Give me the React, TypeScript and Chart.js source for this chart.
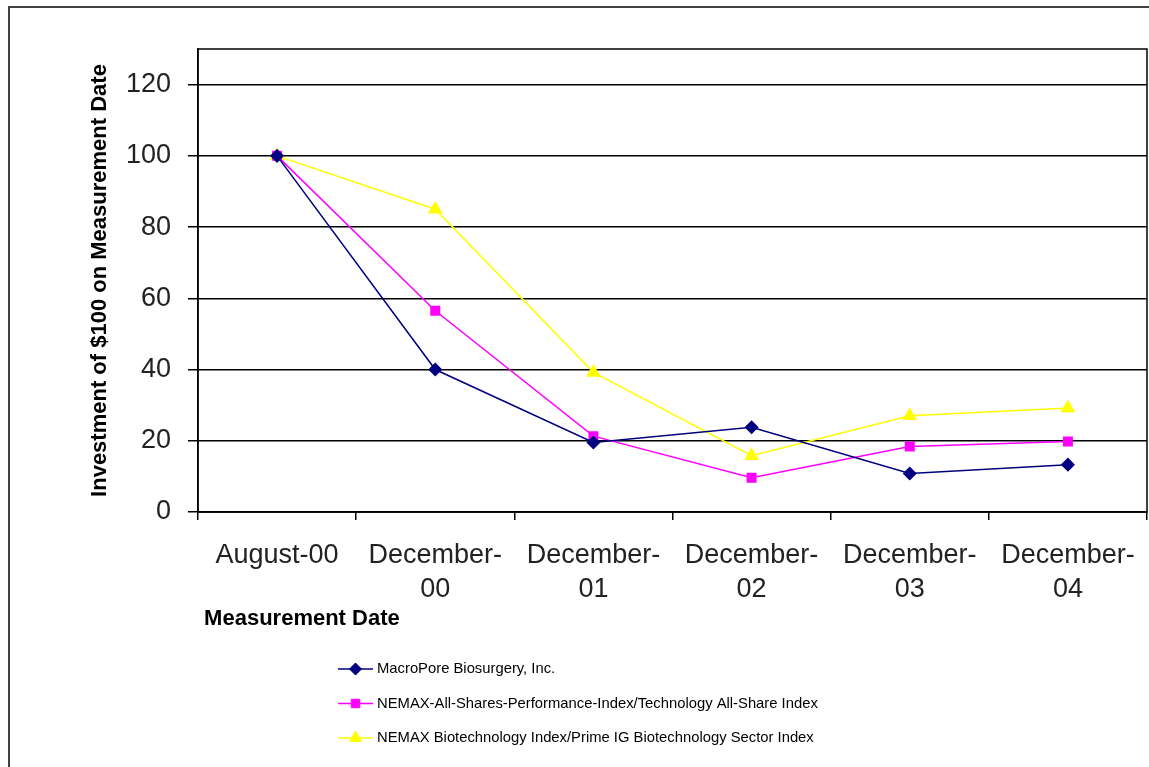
import React, { useEffect, useRef } from "react";
import { Chart, registerables } from "chart.js";

Chart.register(...registerables);

const categories: (string | string[])[] = [
  "August-00",
  ["December-", "00"],
  ["December-", "01"],
  ["December-", "02"],
  ["December-", "03"],
  ["December-", "04"],
];

const macroPore = [100, 40, 19.5, 23.8, 10.8, 13.3];
const nemaxAllShare = [100, 56.5, 21.3, 9.6, 18.4, 19.8];
const nemaxBiotech = [100, 85, 39.2, 15.8, 27, 29.2];

const seriesNames = [
  "MacroPore Biosurgery, Inc.",
  "NEMAX-All-Shares-Performance-Index/Technology All-Share Index",
  "NEMAX Biotechnology Index/Prime IG Biotechnology Sector Index",
];

const yTickStep = 20;
const yMax = 130;

const FONT = "'Liberation Sans', Arial, sans-serif";

const framePlugin = {
  id: "frame",
  beforeDraw(chart: any) {
    const ctx = chart.ctx;
    ctx.save();
    ctx.fillStyle = "#ffffff";
    ctx.fillRect(0, 0, chart.width, chart.height);
    ctx.strokeStyle = "#404040";
    ctx.lineWidth = 2;
    ctx.strokeRect(9, 7, chart.width + 40, chart.height + 40);
    ctx.restore();
  },
  afterDraw(chart: any) {
    const { ctx, chartArea } = chart;
    ctx.save();
    ctx.strokeStyle = "#000";
    ctx.lineWidth = 1.5;
    ctx.strokeRect(chartArea.left, chartArea.top, chartArea.right - chartArea.left, chartArea.bottom - chartArea.top);
    ctx.restore();
  },
};

function drawMarker(ctx: CanvasRenderingContext2D, style: string, r: number, x: number, y: number) {
  ctx.beginPath();
  if (style === "rectRot") {
    ctx.moveTo(x, y - r);
    ctx.lineTo(x + r, y);
    ctx.lineTo(x, y + r);
    ctx.lineTo(x - r, y);
    ctx.closePath();
  } else if (style === "rect") {
    const s = r * Math.SQRT1_2;
    ctx.rect(x - s, y - s, 2 * s, 2 * s);
  } else {
    const h = r * 1.5;
    const w = (r * Math.sqrt(3)) / 2;
    ctx.moveTo(x, y - r);
    ctx.lineTo(x + w, y + h - r);
    ctx.lineTo(x - w, y + h - r);
    ctx.closePath();
  }
  ctx.fill();
  ctx.stroke();
}

const legendPlugin = {
  id: "customLegend",
  afterDraw(chart: any) {
    const ctx = chart.ctx;
    ctx.save();
    const x0 = 338;
    const x1 = 373;
    const y0 = 669;
    const gap = 34.5;
    chart.data.datasets.forEach((ds: any, i: number) => {
      const y = y0 + i * gap;
      ctx.strokeStyle = ds.borderColor;
      ctx.lineWidth = 1.5;
      ctx.beginPath();
      ctx.moveTo(x0, y);
      ctx.lineTo(x1, y);
      ctx.stroke();
      ctx.fillStyle = ds.pointBackgroundColor;
      ctx.strokeStyle = ds.pointBorderColor;
      ctx.lineWidth = 1;
      drawMarker(ctx, ds.pointStyle, ds.pointRadius, (x0 + x1) / 2, y);
      ctx.fillStyle = "#000";
      ctx.font = `14.8px ${FONT}`;
      ctx.textBaseline = "middle";
      ctx.textAlign = "left";
      ctx.fillText(ds.label, x1 + 4, y);
    });
    ctx.restore();
  },
};

export default function App() {
  const ref = useRef<HTMLCanvasElement | null>(null);

  useEffect(() => {
    if (!ref.current) return;
    const chart = new Chart(ref.current, {
      type: "line",
      data: {
        labels: categories,
        datasets: [
          {
            label: seriesNames[0],
            data: macroPore,
            borderColor: "#000080",
            backgroundColor: "#000080",
            pointBackgroundColor: "#000080",
            pointBorderColor: "#000080",
            pointStyle: "rectRot",
            pointRadius: 6,
            borderWidth: 1.5,
          },
          {
            label: seriesNames[1],
            data: nemaxAllShare,
            borderColor: "#FF00FF",
            backgroundColor: "#FF00FF",
            pointBackgroundColor: "#FF00FF",
            pointBorderColor: "#FF00FF",
            pointStyle: "rect",
            pointRadius: 6,
            borderWidth: 1.5,
          },
          {
            label: seriesNames[2],
            data: nemaxBiotech,
            borderColor: "#FFFF00",
            backgroundColor: "#FFFF00",
            pointBackgroundColor: "#FFFF00",
            pointBorderColor: "#FFFF00",
            pointStyle: "triangle",
            pointRadius: 7,
            borderWidth: 1.5,
          },
        ] as any,
      },
      options: {
        animation: false,
        responsive: false,
        devicePixelRatio: 1,
        layout: { autoPadding: false, padding: { top: 49, right: 2, left: 84, bottom: 135 } },
        plugins: {
          legend: { display: false },
          tooltip: { enabled: false },
        },
        elements: { line: { tension: 0 } },
        scales: {
          x: {
            type: "category",
            offset: true,
            grid: {
              offset: true,
              drawOnChartArea: false,
              tickLength: 8,
              color: "#000",
              lineWidth: 1.5,
            },
            border: { color: "#000", width: 1.5 },
            ticks: {
              font: { family: FONT, size: 27, lineHeight: 1.25 },
              color: "#222",
              padding: 19,
              maxRotation: 0,
              autoSkip: false,
            },
            title: {
              display: true,
              text: " Measurement Date",
              align: "start",
              color: "#000",
              font: { family: FONT, size: 22, weight: "bold" },
              padding: { top: 0, bottom: 0 },
            },
            afterFit(scale: any) {
              scale.height = 120;
              scale.paddingLeft = 0;
              scale.paddingRight = 0;
            },
          },
          y: {
            min: 0,
            max: yMax,
            grid: { color: "#000", lineWidth: 1.5, tickLength: 10 },
            border: { color: "#000", width: 1.5 },
            ticks: {
              stepSize: yTickStep,
              font: { family: FONT, size: 27 },
              color: "#222",
              padding: 17,
            },
            afterBuildTicks(scale: any) {
              scale.ticks = scale.ticks.filter((t: any) => t.value % yTickStep === 0);
            },
            title: {
              display: true,
              text: "Investment of $100 on Measurement Date",
              color: "#000",
              font: { family: FONT, size: 22, weight: "bold" },
              padding: 3,
            },
            afterFit(scale: any) {
              scale.width = 114;
            },
          },
        },
      },
      plugins: [framePlugin, legendPlugin],
    });
    return () => chart.destroy();
  }, []);

  return (
    <div style={{ position: "absolute", left: 0, top: 0, width: 1149, height: 767 }}>
      <canvas ref={ref} width={1149} height={767} style={{ display: "block" }} />
    </div>
  );
}
